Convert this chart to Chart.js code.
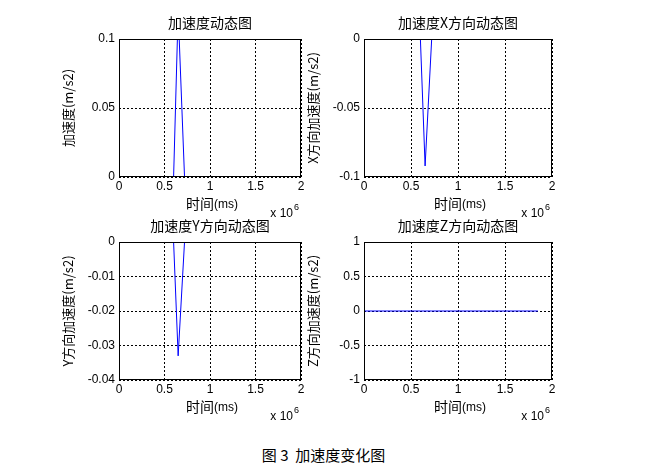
<!DOCTYPE html><html><head><meta charset="utf-8">
<script src="https://cdn.jsdelivr.net/npm/chart.js@4/dist/chart.umd.min.js"></script>
<style>body{margin:0;background:#fff;width:647px;height:472px;position:relative;overflow:hidden;font-family:"Liberation Sans",Arial,sans-serif}
.c{position:absolute}#cap{position:absolute;top:444px;left:0;width:647px;text-align:center;font:15px "Noto Sans CJK SC";}</style></head><body>
<div class="c" style="left:60px;top:10px;width:250px;height:215px"><canvas id="a"></canvas></div>
<div class="c" style="left:305px;top:10px;width:255px;height:215px"><canvas id="b"></canvas></div>
<div class="c" style="left:60px;top:213px;width:250px;height:215px"><canvas id="c"></canvas></div>
<div class="c" style="left:305px;top:213px;width:255px;height:215px"><canvas id="d"></canvas></div>
<div id="cap">图 3&nbsp; 加速度变化图</div>
<script>
const times=[0,600000,650000,720000,1850000];
const accTotal=[0,0,0.12,0,0];
const accX=[0,0,-0.092,0,0];
const accY=[0,0,-0.033,0,0];
const accZ=[0,0,0,0,0];
const titles=['加速度动态图','加速度X方向动态图','加速度Y方向动态图','加速度Z方向动态图'];
const yLabels=['加速度(m/s2)','X方向加速度(m/s2)','Y方向加速度(m/s2)','Z方向加速度(m/s2)'];
const yRanges=[[0,0.1,0.05],[-0.1,0,0.05],[-0.04,0,0.01],[-1,1,0.5]];
const F='"Noto Sans CJK SC","Liberation Sans",sans-serif';
const deco={id:'deco',afterDraw(ch,a,o){const c=ch.ctx,ca=ch.chartArea;c.save();c.fillStyle='#000';
c.font='14px '+F;c.textAlign='center';c.textBaseline='alphabetic';c.fillText(o.t,(ca.left+ca.right)/2,ca.top-11);
c.font='14px '+F;c.fillText('时间',(ca.left+ca.right)/2-10,ca.bottom+32);
c.font='12px "Liberation Sans"';c.textAlign='left';c.fillText('(ms)',(ca.left+ca.right)/2+4,ca.bottom+31);
c.font='12px "Liberation Sans"';c.textAlign='right';c.fillText('x 10',ca.right-8,ca.bottom+40);
c.font='9px "Liberation Sans"';c.textAlign='left';c.fillText('6',ca.right-7,ca.bottom+33);
c.strokeStyle='#000';c.lineWidth=1;c.setLineDash([]);c.strokeRect(ca.left+0.5,ca.top+0.5,ca.right-ca.left-1,ca.bottom-ca.top-1);c.restore();}};
function mk(id,data,i,rp){const r=yRanges[i];
new Chart(document.getElementById(id),{type:'line',data:{labels:times,datasets:[{data:data.map((v,k)=>({x:times[k],y:v})),borderColor:'#0000ff',borderWidth:1,pointRadius:0,tension:0,clip:0}]},
options:{responsive:true,maintainAspectRatio:false,animation:false,layout:{padding:{top:29,right:rp,left:0,bottom:0}},
plugins:{legend:{display:false},tooltip:{enabled:false},deco:{t:titles[i]}},
scales:{x:{type:'linear',min:0,max:2000000,afterFit(s){s.height=48},ticks:{stepSize:500000,color:'#000',font:{size:12,family:'Liberation Sans'},padding:2,callback:v=>v/1e6},
grid:{color:'#000',drawTicks:false,tickLength:0},border:{display:false,dash:[2,2]}},
y:{min:r[0],max:r[1],afterFit(s){s.width=59},ticks:{stepSize:r[2],color:'#000',font:{size:12,family:'Liberation Sans'},padding:4,callback:v=>Math.round(v*1000)/1000},
grid:{color:'#000',drawTicks:false},border:{display:false,dash:[2,2]},
title:{display:true,text:yLabels[i],color:'#000',font:{size:13,family:F},padding:{top:0,bottom:2}}}}},plugins:[deco]});}
mk('a',accTotal,0,9);mk('b',accX,1,8);mk('c',accY,2,9);mk('d',accZ,3,8);
</script></body></html>
